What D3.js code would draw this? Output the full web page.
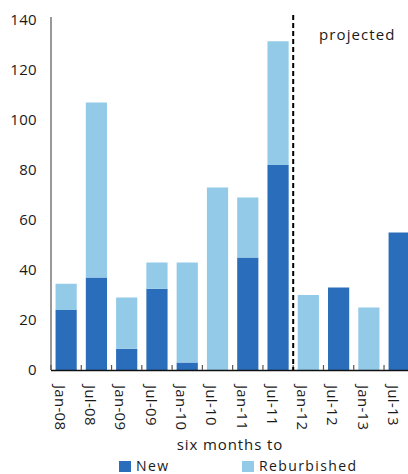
<!DOCTYPE html>
<html>
<head>
<meta charset="utf-8">
<script src="https://cdn.jsdelivr.net/npm/d3@7"></script>
<style>
  html, body { margin: 0; padding: 0; background: #fff; }
  svg { display: block; }
  text { font-family: "Open Sans", "DejaVu Sans", sans-serif; fill: #1a1a1a; }
</style>
</head>
<body>
<script>
// Half-year periods
const periods = ["Jan-08", "Jul-08", "Jan-09", "Jul-09", "Jan-10", "Jul-10",
                 "Jan-11", "Jul-11", "Jan-12", "Jul-12", "Jan-13", "Jul-13"];
// New units per period
const newUnits = [24, 37, 8.5, 32.5, 3, 0, 45, 82, 0, 33, 0, 55];
// Refurbished units per period
const refurbUnits = [10.5, 70, 20.5, 10.5, 40, 73, 24, 49.5, 30, 0, 25, 0];
// Y-axis ticks
const yTicks = [0, 20, 40, 60, 80, 100, 120, 140];
// First projected period
const firstProjected = "Jan-12";

const W = 408, H = 474;
const colors = { new: "#2a6ebb", refurb: "#92cae8" };

const svg = d3.select("body").append("svg").attr("width", W).attr("height", H);

const x = d3.scaleBand().domain(periods).range([51, 414.3])
  .paddingInner(0.3).paddingOuter(0.15);
const y = d3.scaleLinear().domain([0, 140]).range([370, 20]);

const rows = periods.map((p, i) => ({ p, n: newUnits[i], r: refurbUnits[i] }));
const stack = d3.stack().keys(["n", "r"])(rows);

// Bars
svg.append("g").selectAll("g").data(stack).join("g")
  .attr("fill", d => d.key === "n" ? colors.new : colors.refurb)
  .selectAll("rect").data(d => d).join("rect")
  .attr("x", d => x(d.data.p))
  .attr("width", x.bandwidth())
  .attr("y", d => y(d[1]))
  .attr("height", d => y(d[0]) - y(d[1]));

// Y axis labels
svg.append("g").selectAll("text").data(yTicks).join("text")
  .attr("x", 37).attr("y", d => y(d)).attr("dy", "0.36em")
  .attr("text-anchor", "end").attr("font-size", 15)
  .attr("letter-spacing", 0.3)
  .text(d => d);

// Y axis line
svg.append("line").attr("x1", 51).attr("x2", 51).attr("y1", 17).attr("y2", 370)
  .attr("stroke", "#777").attr("stroke-width", 1.5);

// Baseline
svg.append("line").attr("x1", 51).attr("x2", W).attr("y1", 370.5).attr("y2", 370.5)
  .attr("stroke", "#111").attr("stroke-width", 1.5);

// Ticks at band boundaries
const bounds = periods.map(p => x(p) - x.step() * x.paddingInner() / 2);
svg.append("g").selectAll("line").data(bounds).join("line")
  .attr("x1", d => d).attr("x2", d => d)
  .attr("y1", 365).attr("y2", 370)
  .attr("stroke", "#555").attr("stroke-width", 1.2);

// X labels, rotated
svg.append("g").selectAll("text").data(periods).join("text")
  .attr("transform", p => `translate(${x(p) + x.bandwidth() / 2 - 6},385) rotate(90)`)
  .attr("font-size", 15)
  .attr("letter-spacing", 0.3)
  .attr("dy", "0.35em")
  .text(p => p);

// Projection divider
const divX = x(firstProjected) - x.step() * x.paddingInner() / 2;
svg.append("line").attr("x1", divX).attr("x2", divX).attr("y1", 15).attr("y2", 370)
  .attr("stroke", "#000").attr("stroke-width", 2).attr("stroke-dasharray", "5,3");

svg.append("text").attr("x", 319).attr("y", 40).attr("font-size", 15)
  .attr("letter-spacing", 1.1).text("projected");

// Axis title
svg.append("text").attr("x", 230).attr("y", 450).attr("text-anchor", "middle")
  .attr("font-size", 15).attr("letter-spacing", 0.9).text("six months to");

// Legend
const legend = [{ label: "New", c: colors.new, x: 119 }, { label: "Reburbished", c: colors.refurb, x: 242 }];
const lg = svg.append("g").selectAll("g").data(legend).join("g")
  .attr("transform", d => `translate(${d.x},461)`);
lg.append("rect").attr("width", 12).attr("height", 11).attr("fill", d => d.c);
lg.append("text").attr("x", 17).attr("y", 9.5).attr("font-size", 14)
  .attr("letter-spacing", 1.4).text(d => d.label);
</script>
</body>
</html>
